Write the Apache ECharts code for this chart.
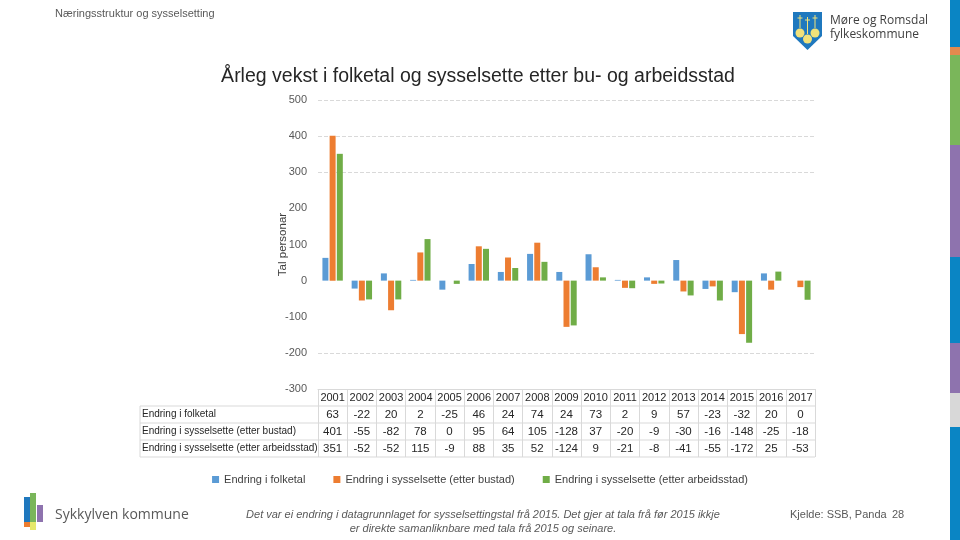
<!DOCTYPE html>
<html><head><meta charset="utf-8">
<script src="https://cdn.jsdelivr.net/npm/echarts@6/dist/echarts.min.js"></script>
<style>html,body{margin:0;padding:0;background:#fff}#c{width:960px;height:540px}</style>
</head><body><div id="c"></div>
<script>
const years = ['2001','2002','2003','2004','2005','2006','2007','2008','2009','2010','2011','2012','2013','2014','2015','2016','2017'];
const folketal = [63,-22,20,2,-25,46,24,74,24,73,2,9,57,-23,-32,20,0];
const bustad = [401,-55,-82,78,0,95,64,105,-128,37,-20,-9,-30,-16,-148,-25,-18];
const arbeidsstad = [351,-52,-52,115,-9,88,35,52,-124,9,-21,-8,-41,-55,-172,25,-53];
const seriesNames = ['Endring i folketal','Endring i sysselsette (etter bustad)','Endring i sysselsette (etter arbeidsstad)'];
const seriesData = [folketal, bustad, arbeidsstad];
const colors = ['#5B9BD5','#ED7D31','#70AD47'];
const yMin = -300, yMax = 500, yStep = 100;

const FONT = '"Liberation Sans",Arial,sans-serif';
const GL = 318, GR = 815, GT = 100, GB = 389, ROW = 17, HEADL = 140;
const border = '#d9d9d9';

const chart = echarts.init(document.getElementById('c'), null, {renderer:'canvas'});

const xAxes = [{
  type:'category', data: years, position:'bottom', gridIndex:0,
  axisLine:{show:true, onZero:false, lineStyle:{color:border}},
  axisTick:{show:true, length: ROW*4, lineStyle:{color:border}},
  axisLabel:{interval:0, margin: ROW/2, verticalAlign:'middle', fontFamily:FONT, fontSize:11, color:'#262626'},
  splitLine:{show:false}
}];
seriesData.forEach((d,k)=>{
  xAxes.push({
    type:'category', data: d.map(String), position:'bottom', offset: ROW*(k+1),
    axisLine:{show:false, onZero:false}, axisTick:{show:false},
    axisLabel:{interval:0, margin: ROW/2, verticalAlign:'middle', fontFamily:FONT, fontSize:11.5, color:'#262626'},
    splitLine:{show:false}
  });
});

function txt(x, y, text, font, fill, align) {
  return {type:'text', style:{x:x, y:y, text:text, font:font, fill:fill, align:align||'left', verticalAlign:'middle'}, silent:true};
}

const graphics = [];
for (let r=1; r<=4; r++) {
  graphics.push({type:'line', shape:{x1:HEADL, y1:GB+ROW*r, x2:GR, y2:GB+ROW*r}, style:{stroke:border, lineWidth:1}, silent:true});
}
graphics.push({type:'line', shape:{x1:HEADL, y1:GB+ROW, x2:HEADL, y2:GB+ROW*4}, style:{stroke:border, lineWidth:1}});
seriesNames.forEach((n,k)=>{
  graphics.push(txt(HEADL+2, GB+ROW*(k+1.5), n, '10px '+FONT, '#262626'));
});
graphics.push(txt(55, 14, 'Næringsstruktur og sysselsetting', '11px '+FONT, '#595959'));
graphics.push(txt(830, 21, 'Møre og Romsdal', '12px "Open Sans",sans-serif', '#404040'));
graphics.push(txt(830, 35, 'fylkeskommune', '12px "Open Sans",sans-serif', '#404040'));
graphics.push({type:'polygon', shape:{points:[[793,12],[822,12],[822,36],[807.5,50],[793,36]]}, style:{fill:'#1f78be'}});
[[800,33],[815,33],[807.5,39]].forEach(p=>graphics.push({type:'circle', shape:{cx:p[0],cy:p[1],r:4.5}, style:{fill:'#f2e27a'}}));
[[800,15,28],[815,15,28],[807.5,17,34]].forEach(p=>{
  graphics.push({type:'line', shape:{x1:p[0],y1:p[1],x2:p[0],y2:p[2]}, style:{stroke:'#f2e27a', lineWidth:1}});
  graphics.push({type:'line', shape:{x1:p[0]-2.5,y1:p[1]+3,x2:p[0]+2.5,y2:p[1]+3}, style:{stroke:'#f2e27a', lineWidth:1}});
});
[[0,47,'#0a85c4'],[47,55,'#e48a4e'],[55,145,'#7ab65a'],[145,257,'#8e73ae'],[257,343,'#0a85c4'],[343,393,'#8e73ae'],[393,427,'#d8d8d8'],[427,540,'#0a85c4']].forEach(s=>{
  graphics.push({type:'rect', shape:{x:950,y:s[0],width:10,height:s[1]-s[0]}, style:{fill:s[2]}});
});
[[24,497,6,25,'#1f78be'],[30,493,6,29,'#7ab65a'],[37,505,6,17,'#8e73ae'],[24,522,6,5,'#ed7d31'],[30,522,6,8,'#e6e86a']].forEach(b=>{
  graphics.push({type:'rect', shape:{x:b[0],y:b[1],width:b[2],height:b[3]}, style:{fill:b[4]}});
});
graphics.push(txt(55, 515, 'Sykkylven kommune', '14px "Open Sans",sans-serif', '#595959'));
graphics.push(txt(483, 515, 'Det var ei endring i datagrunnlaget for sysselsettingstal frå 2015. Det gjer at tala frå før 2015 ikkje', 'italic 11px '+FONT, '#595959', 'center'));
graphics.push(txt(483, 529, 'er direkte samanliknbare med tala frå 2015 og seinare.', 'italic 11px '+FONT, '#595959', 'center'));
graphics.push(txt(790, 515, 'Kjelde: SSB, Panda', '11px '+FONT, '#595959'));
graphics.push(txt(892, 515, '28', '11px '+FONT, '#595959'));

chart.setOption({
  animation:false,
  color: colors,
  title:{text:'Årleg vekst i folketal og sysselsette etter bu- og arbeidsstad', left:473, textAlign:'center', top:62,
    textStyle:{fontFamily:FONT, fontSize:19.5, fontWeight:'normal', color:'#262626'}},
  legend:{data:seriesNames, top:469, left:'center', itemWidth:7, itemHeight:7, icon:'rect', itemGap:28,
    textStyle:{fontFamily:FONT, fontSize:11, color:'#404040'}},
  grid:{left:GL, right:960-GR, top:GT, bottom:540-GB, containLabel:false},
  xAxis: xAxes,
  yAxis:{type:'value', min:yMin, max:yMax, interval:yStep,
    name:'Tal personar', nameLocation:'middle', nameGap:29, nameRotate:90, nameMoveOverlap:false,
    nameTextStyle:{fontFamily:FONT, fontSize:11.5, color:'#404040'},
    axisLine:{show:false}, axisTick:{show:false},
    axisLabel:{fontFamily:FONT, fontSize:11, color:'#595959', margin:11},
    splitLine:{show:true, lineStyle:{type:'dashed', color:['rgba(0,0,0,0)','#d9d9d9','rgba(0,0,0,0)','rgba(0,0,0,0)','rgba(0,0,0,0)','rgba(0,0,0,0)','#d9d9d9','#d9d9d9','#d9d9d9']}}
  },
  series: seriesNames.map((n,k)=>({
    name:n, type:'bar', data:seriesData[k], xAxisIndex:0, yAxisIndex:0,
    barWidth:6, barGap:'20%', itemStyle:{color:colors[k]}
  })),
  graphic: graphics
});
</script></body></html>
